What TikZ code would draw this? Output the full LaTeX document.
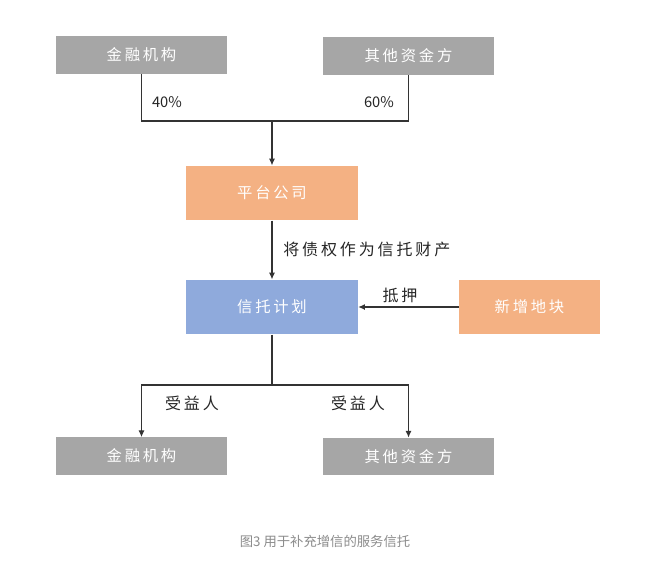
\documentclass[tikz,border=0pt]{standalone}
\usepackage{fontspec}
\newfontfamily\cjk[LetterSpace=18]{Noto Sans CJK SC}
\newfontfamily\cjkcap{Noto Sans CJK SC}
\usetikzlibrary{arrows.meta}
\definecolor{boxgray}{HTML}{A6A6A6}
\definecolor{boxorange}{HTML}{F4B183}
\definecolor{boxblue}{HTML}{8FAADC}
\definecolor{capgray}{HTML}{8C8C8C}
\tikzset{
  party/.style={fill=boxgray,text=white,font=\cjk\fontsize{11.5}{13}\selectfont,minimum width=128.25pt,minimum height=28pt,inner sep=0pt},
  midbox/.style={text=white,font=\cjk\fontsize{11.5}{13}\selectfont,minimum height=41pt,inner sep=0pt},
  lbl/.style={font=\cjk\fontsize{12}{14}\selectfont,text=black!85,inner sep=0pt},
  pct/.style={font=\cjkcap\fontsize{11}{13}\selectfont,text=black!85,inner sep=0pt},
  link/.style={draw=black!80,line width=0.8pt},
  arr/.style={link,-{Latex[length=5pt,width=4.5pt]}}
}
\begin{document}
\begin{tikzpicture}[x=0.75pt,y=-0.75pt]
\useasboundingbox[fill=white] (0,0) rectangle (650,562);
% funding side
\node[party] (fin1) at (141.5,55) {金融机构};
\node[party] (oth1) at (408.5,56) {其他资金方};
\node[pct] (pct1) at (167,102) {40\%};
\node[pct] (pct2) at (379,102) {60\%};
\coordinate (join) at (272,121);
\node[midbox,fill=boxorange,minimum width=129pt] (plat) at (272,193) {平台公司};
\draw[link] (fin1.south) |- (join) -| (oth1.south);
\draw[arr] (join) -- (plat);
% trust
\node[midbox,fill=boxblue,minimum width=129pt] (trust) at (272,307) {信托计划};
\node[midbox,fill=boxorange,minimum width=105.75pt] (land) at (529.5,307) {新增地块};
\draw[arr] (plat) -- (trust);
\node[lbl,anchor=west] (asset) at (283,249) {将债权作为信托财产};
\draw[arr] (land) -- (trust);
\node[lbl] (pledge) at (400,295) {抵押};
% beneficiaries
\node[party] (fin2) at (141.5,456) {金融机构};
\node[party] (oth2) at (408.5,456.5) {其他资金方};
\coordinate (split) at (272,385);
\draw[link] (trust) -- (split);
\draw[arr] (split) -| (fin2.north);
\draw[arr] (split) -| (oth2.north);
\node[lbl] (ben1) at (192,403) {受益人};
\node[lbl] (ben2) at (358,403) {受益人};
\node[font=\cjkcap\fontsize{10}{12}\selectfont,text=capgray] (cap) at (325,541) {图3\ 用于补充增信的服务信托};
\end{tikzpicture}
\end{document}
